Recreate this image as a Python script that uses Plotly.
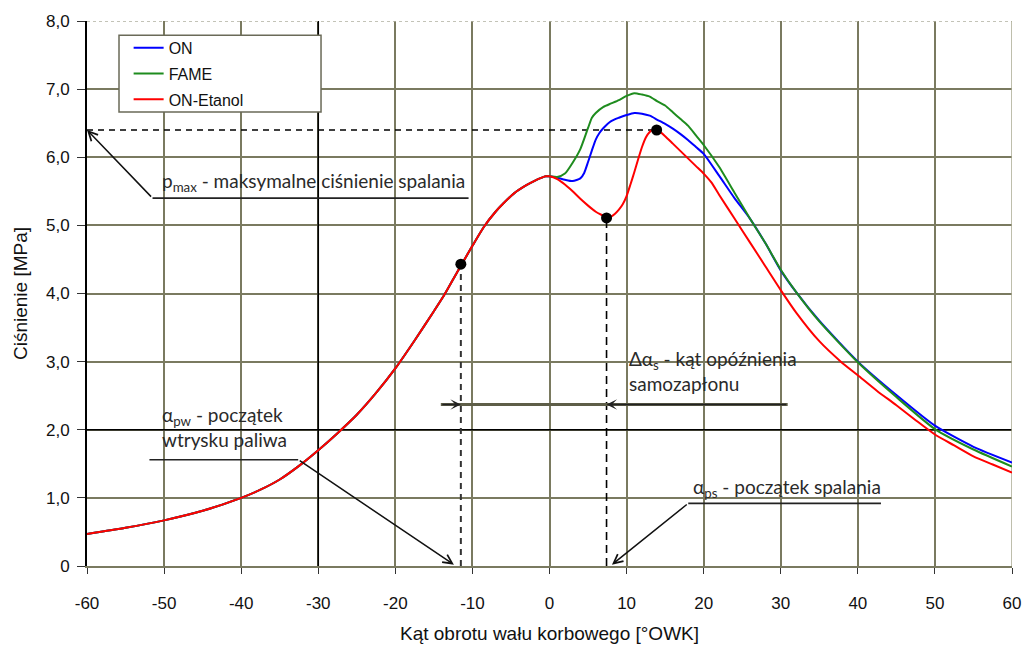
import plotly.graph_objects as go

# ---------------- data ----------------
common_x = [-60, -55, -50, -45, -40, -37.5, -35, -32.5, -30, -27.5, -25, -22.5, -20, -17.5,
            -15, -13.7, -12, -10, -8.5, -7, -6, -4.6, -3, -2, -1, -0.5, 0]
common_y = [0.47, 0.56, 0.67, 0.81, 1.0, 1.12, 1.27, 1.47, 1.70, 1.95, 2.22, 2.54, 2.9, 3.31,
            3.74, 3.97, 4.31, 4.7, 4.98, 5.2, 5.32, 5.47, 5.59, 5.65, 5.7, 5.72, 5.72]

on_x = [1, 2, 3, 4, 4.5, 5, 5.5, 6, 6.5, 7, 8, 9, 10, 11, 12, 13, 14, 15, 16, 17, 18, 19,
        20, 22, 24, 26, 28, 30, 32, 35, 40, 45, 50, 55, 60]
on_y = [5.7, 5.67, 5.65, 5.69, 5.77, 5.93, 6.1, 6.26, 6.36, 6.43, 6.53, 6.58, 6.62, 6.65,
        6.64, 6.61, 6.55, 6.49, 6.42, 6.34, 6.25, 6.15, 6.05, 5.73, 5.4, 5.1, 4.74, 4.34,
        4.02, 3.6, 3.0, 2.51, 2.06, 1.75, 1.52]

fame_x = [1, 2, 3, 4, 5, 5.5, 6, 7, 8, 9, 10, 11, 12, 13, 14, 15, 16, 17, 18, 19, 20, 22,
          24, 26, 28, 30, 32, 35, 40, 45, 50, 55, 60]
fame_y = [5.71, 5.76, 5.92, 6.12, 6.43, 6.58, 6.65, 6.74, 6.79, 6.84, 6.9, 6.94, 6.92,
          6.89, 6.82, 6.76, 6.66, 6.56, 6.46, 6.32, 6.18, 5.86, 5.48, 5.1, 4.74, 4.35, 4.02,
          3.59, 2.99, 2.48, 2.01, 1.71, 1.46]

eta_x = [1, 2, 3, 4, 5, 6, 7, 7.5, 8, 8.5, 9, 9.5, 10, 10.5, 11, 11.5, 12, 12.5, 13, 13.5,
         14, 15, 16, 17, 18, 19, 20, 21, 22, 24, 26, 28, 30, 32, 35, 37.8, 40, 42.5, 45,
         47.5, 50, 52.5, 55, 57.5, 60]
eta_y = [5.68, 5.6, 5.5, 5.39, 5.29, 5.2, 5.14, 5.11, 5.13, 5.17, 5.23, 5.31, 5.43, 5.6,
         5.78, 5.97, 6.15, 6.29, 6.37, 6.41, 6.40, 6.31, 6.2, 6.09, 5.98, 5.87, 5.76, 5.63,
         5.45, 5.1, 4.75, 4.4, 4.05, 3.72, 3.3, 3.0, 2.8, 2.57, 2.36, 2.14, 1.93, 1.77, 1.61,
         1.49, 1.37]

series_names = ["ON", "FAME", "ON-Etanol"]
series_colors = ["#0000ff", "#1e8c1e", "#ff0000"]

# characteristic points: start of injection, start of combustion, p_max
point_x = [-11.5, 7.4, 13.9]
point_y = [4.43, 5.11, 6.40]

x_ticks = list(range(-60, 61, 10))
x_ticklabels = ["-60", "-50", "-40", "-30", "-20", "-10", "0", "10", "20", "30", "40",
                "50", "60"]
y_ticks = [0, 1, 2, 3, 4, 5, 6, 7, 8]
y_ticklabels = ["0", "1,0", "2,0", "3,0", "4,0", "5,0", "6,0", "7,0", "8,0"]

# annotation geometry (data coordinates)
pmax_label_line = (-51.5, -10.5, 5.40)
pw_label_line = (-51.9, -32.6, 1.56)
ps_label_line = (18.0, 43.0, 0.92)
delay_line = (-14.1, 30.9, 2.37)

ANN_FONT = "Lato"
AX_FONT = "Liberation Sans, Arial"
GRID = "#7a7a60"

fig = go.Figure()

all_x = [common_x + on_x, common_x + fame_x, common_x + eta_x]
all_y = [common_y + on_y, common_y + fame_y, common_y + eta_y]
for i, (name, col) in enumerate(zip(series_names, series_colors)):
    fig.add_trace(go.Scatter(x=all_x[i], y=all_y[i], mode="lines", name=name,
                             legendgroup=name, line_shape="spline",
                             line=dict(color=col, width=2, smoothing=0.6)))

fig.add_trace(go.Scatter(x=point_x, y=point_y, mode="markers", showlegend=False,
                         marker=dict(color="black", size=11)))

shapes = []
shapes.append(dict(type="line", xref="x", yref="y", x0=-30, x1=-30, y0=0, y1=8,
                   line=dict(color="black", width=1.6), layer="between"))
shapes.append(dict(type="line", xref="x", yref="y", x0=-60, x1=60, y0=2, y1=2,
                   line=dict(color="black", width=1.6), layer="between"))
shapes.append(dict(type="line", xref="x", yref="y", x0=-60, x1=60, y0=8, y1=8,
                   line=dict(color="#b0b0a0", width=1.5, dash="dot"), layer="between"))
shapes.append(dict(type="line", xref="x", yref="y", x0=60, x1=60, y0=0, y1=8,
                   line=dict(color="#a8a890", width=1.5), layer="between"))
shapes.append(dict(type="line", xref="x", yref="y", x0=-60, x1=point_x[2],
                   y0=point_y[2], y1=point_y[2],
                   line=dict(color="black", width=1.6, dash="6px,5px"), layer="between"))
shapes.append(dict(type="line", xref="x", yref="y", x0=point_x[0], x1=point_x[0],
                   y0=0, y1=point_y[0],
                   line=dict(color="#333333", width=2, dash="6px,5px"), layer="between"))
shapes.append(dict(type="line", xref="x", yref="y", x0=point_x[1], x1=point_x[1],
                   y0=0, y1=point_y[1],
                   line=dict(color="black", width=1.6, dash="8px,5px"), layer="between"))
for (xa, xb, yy) in [pmax_label_line, pw_label_line, ps_label_line]:
    shapes.append(dict(type="line", xref="x", yref="y", x0=xa, x1=xb, y0=yy, y1=yy,
                       line=dict(color="#222222", width=1.6), layer="above"))
shapes.append(dict(type="line", xref="x", yref="y", x0=delay_line[0], x1=delay_line[1],
                   y0=delay_line[2], y1=delay_line[2],
                   line=dict(color="#5e5e48", width=3), layer="above"))
# legend frame
shapes.append(dict(type="rect", xref="paper", yref="paper", x0=0.0346, x1=0.253,
                   y0=0.833, y1=0.974, fillcolor="white",
                   line=dict(color="#6a6a58", width=1.5), layer="above"))

annotations = []


def arrow(hx, hy, tx, ty, color="#111111", width=1.5, head=5, size=1.2):
    annotations.append(dict(x=hx, y=hy, ax=tx, ay=ty, xref="x", yref="y",
                            axref="x", ayref="y", text="", showarrow=True,
                            arrowhead=head, arrowsize=size, arrowwidth=width,
                            arrowcolor=color))


arrow(-60, point_y[2], pmax_label_line[0], pmax_label_line[2])
arrow(-12.4, 0.02, pw_label_line[1], pw_label_line[2])
arrow(8.1, 0.02, ps_label_line[0], ps_label_line[2])
arrow(point_x[0], delay_line[2], delay_line[0], delay_line[2], color="#222222",
      width=1.6, head=3, size=1.1)
arrow(point_x[1], delay_line[2], delay_line[1], delay_line[2], color="#222222",
      width=1.6, head=3, size=1.1)

tf = dict(family=ANN_FONT, size=19, color="#2a2a2a")
annotations.append(dict(x=-50.5, y=5.64, xref="x", yref="y",
                        xanchor="left", yanchor="middle", showarrow=False, align="left",
                        text="p<sub>max</sub> - maksymalne ciśnienie spalania", font=tf))
annotations.append(dict(x=-50.5, y=2.04, xref="x", yref="y",
                        xanchor="left", yanchor="middle", showarrow=False, align="left",
                        text="α<sub>pw</sub> - początek<br>wtrysku paliwa", font=tf))
annotations.append(dict(x=10.1, y=2.86, xref="x", yref="y",
                        xanchor="left", yanchor="middle", showarrow=False, align="left",
                        text="Δα<sub>s</sub> - kąt opóźnienia<br>samozapłonu", font=tf))
annotations.append(dict(x=18.3, y=1.14, xref="x", yref="y",
                        xanchor="left", yanchor="middle", showarrow=False, align="left",
                        text="α<sub>ps</sub> - początek spalania", font=tf))

fig.update_layout(
    width=1027, height=648,
    margin=dict(l=87, r=15, t=21, b=82),
    paper_bgcolor="white", plot_bgcolor="white",
    shapes=shapes, annotations=annotations,
    legend=dict(x=0.045, y=0.982, xanchor="left", yanchor="top",
                bgcolor="rgba(0,0,0,0)", borderwidth=0, tracegroupgap=2,
                font=dict(family=AX_FONT, size=16, color="#111111")),
    xaxis=dict(range=[-60, 60], tickvals=x_ticks, ticktext=x_ticklabels, showgrid=True,
               gridcolor=GRID, automargin=False,
               gridwidth=1.5, zeroline=False, showline=True, linecolor=GRID, linewidth=2,
               ticks="outside", ticklen=6, tickcolor="#333333", tickwidth=1.2,
               tickfont=dict(family=AX_FONT, size=17, color="#111111"),
               ticklabelstandoff=15,
               title=dict(text="Kąt obrotu wału korbowego [°OWK]", standoff=14,
                          font=dict(family=AX_FONT, size=19, color="#111111"))),
    yaxis=dict(range=[0, 8], tickvals=y_ticks, ticktext=y_ticklabels, showgrid=True,
               gridcolor=GRID, gridwidth=1.5, zeroline=False, showline=True,
               automargin=False,
               linecolor="black", linewidth=2, ticks="outside", ticklen=8,
               tickcolor="#333333", tickwidth=1.2, ticklabelstandoff=4,
               tickfont=dict(family=AX_FONT, size=17, color="#111111"),
               title=dict(text="Ciśnienie [MPa]", standoff=13,
                          font=dict(family=AX_FONT, size=19, color="#111111"))),
)

fig.write_html("out.html", config={"displayModeBar": False},
               post_script="document.body.style.margin='0px';"
                           "document.body.style.overflow='hidden';")
